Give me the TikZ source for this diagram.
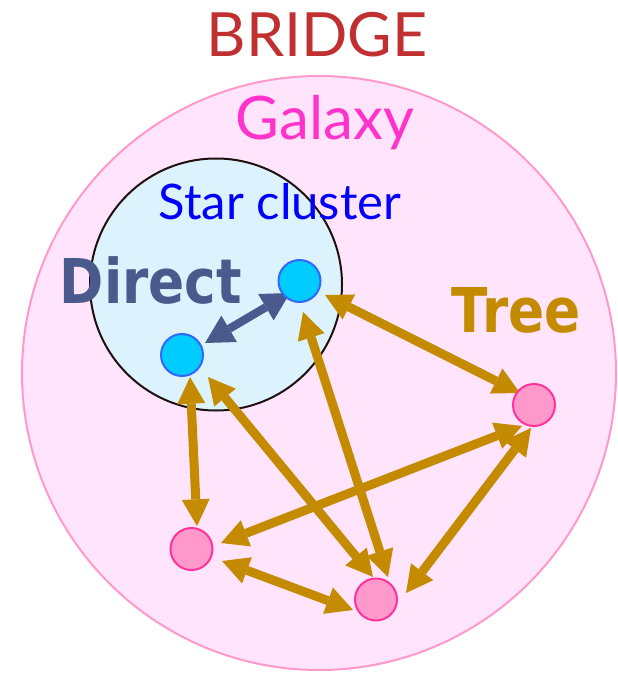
\documentclass[tikz,border=0pt]{standalone}
\usepackage{fontspec}
\usepackage{graphicx}
\setmainfont{Lato}
\newfontfamily\verdb{DejaVu Sans Bold}
\usetikzlibrary{arrows.meta,calc}
\definecolor{gold}{RGB}{196,138,0}
\definecolor{directblue}{RGB}{74,90,140}
\definecolor{bridgered}{RGB}{192,48,48}
\definecolor{galaxytext}{RGB}{255,51,204}
\definecolor{galaxyfill}{RGB}{255,228,252}
\definecolor{galaxyline}{RGB}{255,153,204}
\definecolor{clusterfill}{RGB}{220,242,253}
\definecolor{clusterline}{RGB}{32,16,16}
\definecolor{cyanfill}{RGB}{0,204,255}
\definecolor{cyanline}{RGB}{51,102,255}
\definecolor{pinkfill}{RGB}{255,153,204}
\definecolor{pinkline}{RGB}{255,51,153}
\pgfdeclarelayer{back}
\pgfdeclarelayer{mid}
\pgfsetlayers{back,mid,main}
\begin{document}
\begin{tikzpicture}[x=0.75pt,y=-0.75pt,
  ttip/.tip={Triangle[length=20pt,width=21pt,line width=0pt]},
  dtip/.tip={Triangle[length=21pt,width=23pt,line width=0pt]},
  treearr/.style={line width=6.75pt, draw=gold, fill=gold, ttip-ttip},
  directarr/.style={line width=6.2pt, draw=directblue, fill=directblue, dtip-dtip},
  star/.style={circle, minimum size=31.5pt, inner sep=0pt, line width=1.5pt, draw=cyanline, fill=cyanfill},
  pinknode/.style={circle, minimum size=31.5pt, inner sep=0pt, line width=1.5pt, draw=pinkline, fill=pinkfill},
  region/.style={circle, inner sep=0pt},
  lbl/.style={anchor=base, inner sep=0pt}]
\useasboundingbox (0,0) rectangle (617,673);
\begin{pgfonlayer}{back}
\node[region, minimum size=445.5pt, draw=galaxyline, line width=1.5pt, fill=galaxyfill] (galaxy) at (319,373) {};
\node[region, minimum size=189pt, draw=clusterline, line width=1.5pt, fill=clusterfill] (cluster) at (216,284.5) {};
\end{pgfonlayer}
% texts
\node[lbl, text=bridgered, font=\fontsize{45.75}{50}\selectfont] (title) at (317,57) {BRIDGE};
\node[lbl, text=galaxytext, font=\fontsize{45}{50}\selectfont] (galaxylbl) at (325,140) {Galaxy};
\node[lbl, text=blue, font=\fontsize{36.75}{40}\selectfont] (clusterlbl) at (280,220) {Star cluster};
\node[lbl, text=directblue, font=\verdb\fontsize{46.3}{50}\selectfont] (directlbl) at (151,303) {\scalebox{0.864}[1]{Direct}};
\node[lbl, text=gold, font=\verdb\fontsize{46.3}{50}\selectfont] (treelbl) at (516.5,332) {\scalebox{0.864}[1]{Tree}};
% particles
\node[star] (c1) at (299.5,281) {};
\node[star] (c2) at (182,355) {};
\node[pinknode] (p1) at (534,405) {};
\node[pinknode] (p2) at (191.5,549) {};
\node[pinknode] (p3) at (376,599.5) {};
\begin{pgfonlayer}{mid}
\draw[directarr] ($(c1)+(-9.5,12)$) -- ($(c2)+(23,-12)$);
\draw[treearr] ($(c1)+(25.5,14)$) -- ($(p1)+(-14,-12)$);
\draw[treearr] ($(c1)+(3.5,31)$) -- ($(p3)+(12,-22.5)$);
\draw[treearr] ($(c2)+(8,22)$) -- ($(p2)+(5.5,-23)$);
\draw[treearr] ($(c2)+(26,22)$) -- ($(p3)+(-3,-22.5)$);
\draw[treearr] ($(p2)+(29.5,-6)$) -- ($(p1)+(-12,21)$);
\draw[treearr] ($(p3)+(30,-6.5)$) -- ($(p1)+(-3,23)$);
\draw[treearr] ($(p2)+(30.5,12)$) -- ($(p3)+(-23,10.5)$);
\end{pgfonlayer}
\end{tikzpicture}
\end{document}
